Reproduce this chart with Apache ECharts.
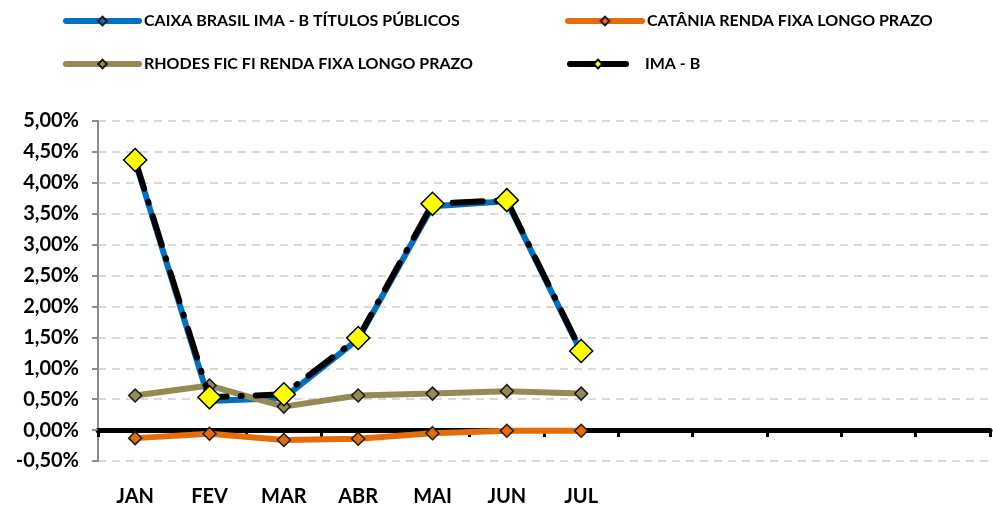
<!DOCTYPE html>
<html>
<head>
<meta charset="utf-8">
<script src="https://cdn.jsdelivr.net/npm/echarts@6/dist/echarts.min.js"></script>
<style>
  html, body { margin: 0; padding: 0; background: #fff; }
  #chart { width: 993px; height: 507px; }
</style>
</head>
<body>
<div id="chart"></div>
<script>
// meses (os 5 últimos ficam sem rótulo no original)
const months = ["JAN", "FEV", "MAR", "ABR", "MAI", "JUN", "JUL", "AGO", "SET", "OUT", "NOV", "DEZ"];
const monthLabels = ["JAN", "FEV", "MAR", "ABR", "MAI", "JUN", "JUL", "", "", "", "", ""];

// rentabilidade mensal (%)
const caixa = [4.35, 0.47, 0.52, 1.47, 3.62, 3.70, 1.26];
const catania = [-0.13, -0.06, -0.16, -0.14, -0.05, -0.01, -0.01];
const rhodes = [0.56, 0.72, 0.38, 0.56, 0.59, 0.63, 0.59];
const imaB = [4.37, 0.53, 0.58, 1.49, 3.66, 3.72, 1.28];

const yTicks = { min: -0.5, max: 5, step: 0.5 };

const FONT = "Lato";

const chart = echarts.init(document.getElementById("chart"));

function legendAt(name, left, top, width, textPad) {
  return {
    data: [name],
    left: left,
    top: top,
    itemWidth: width,
    itemHeight: 11,
    itemGap: 0,
    lineStyle: { width: 6, type: "solid", cap: "round" },
    textStyle: {
      fontFamily: FONT, fontWeight: "bold", fontSize: 16, color: "#000",
      padding: [0, 0, 0, textPad || 0],
    },
  };
}

const option = {
  animation: false,
  backgroundColor: "#fff",
  legend: [
    legendAt("CAIXA BRASIL IMA - B TÍTULOS PÚBLICOS", 58, 8, 73),
    legendAt("CATÂNIA RENDA FIXA LONGO PRAZO", 560, 8, 74),
    legendAt("RHODES FIC FI RENDA FIXA LONGO PRAZO", 58, 51, 73),
    legendAt("IMA - B", 562, 51, 56, 14),
  ],
  grid: { left: 98, right: 3, top: 121, bottom: 46 },
  xAxis: [
    {
      // linha do zero com marcas
      type: "category",
      data: months,
      boundaryGap: true,
      axisLine: { onZero: true, lineStyle: { color: "#000", width: 5 } },
      axisTick: { show: true, length: 7, lineStyle: { color: "#000", width: 3 } },
      axisLabel: { show: false },
    },
    {
      // rótulos dos meses, na base
      type: "category",
      data: months,
      position: "bottom",
      boundaryGap: true,
      axisLine: { show: false, onZero: false },
      axisTick: { show: false },
      axisLabel: {
        margin: 26,
        interval: 0,
        fontFamily: FONT,
        fontWeight: "bold",
        fontSize: 20,
        color: "#000",
        formatter: (v, i) => monthLabels[i],
      },
    },
  ],
  yAxis: {
    type: "value",
    min: yTicks.min,
    max: yTicks.max,
    interval: yTicks.step,
    axisLine: { show: true, lineStyle: { color: "#8c8c8c", width: 2 } },
    axisTick: { show: true, length: 6, lineStyle: { color: "#8c8c8c", width: 2 } },
    splitLine: { lineStyle: { color: "#d9d9d9", width: 2, type: [8, 6] } },
    axisLabel: {
      margin: 19,
      fontFamily: FONT,
      fontWeight: "bold",
      fontSize: 20,
      color: "#000",
      formatter: (v) => v.toFixed(2).replace(".", ",") + "%",
    },
  },
  series: [
    {
      name: "CAIXA BRASIL IMA - B TÍTULOS PÚBLICOS",
      type: "line",
      data: caixa,
      symbol: "diamond",
      symbolSize: 12,
      lineStyle: { color: "#0070C0", width: 6 },
      itemStyle: { color: "#0070C0", borderColor: "#1a1a1a", borderWidth: 1.5 },
      z: 2,
    },
    {
      name: "CATÂNIA RENDA FIXA LONGO PRAZO",
      type: "line",
      data: catania,
      symbol: "diamond",
      symbolSize: 13,
      lineStyle: { color: "#E46C0A", width: 6 },
      itemStyle: { color: "#E46C0A", borderColor: "#1a1a1a", borderWidth: 1.5 },
      z: 3,
    },
    {
      name: "RHODES FIC FI RENDA FIXA LONGO PRAZO",
      type: "line",
      data: rhodes,
      symbol: "diamond",
      symbolSize: 13,
      lineStyle: { color: "#948A54", width: 6 },
      itemStyle: { color: "#948A54", borderColor: "#1a1a1a", borderWidth: 1.5 },
      z: 3,
    },
    {
      name: "IMA - B",
      type: "line",
      data: imaB,
      symbol: "diamond",
      symbolSize: 23,
      lineStyle: { color: "#000", width: 6, type: [30, 14, 1, 14], cap: "round" },
      itemStyle: { color: "#FFFF00", borderColor: "#000", borderWidth: 1.5 },
      z: 4,
    },
  ],
};

chart.setOption(option);
</script>
</body>
</html>
